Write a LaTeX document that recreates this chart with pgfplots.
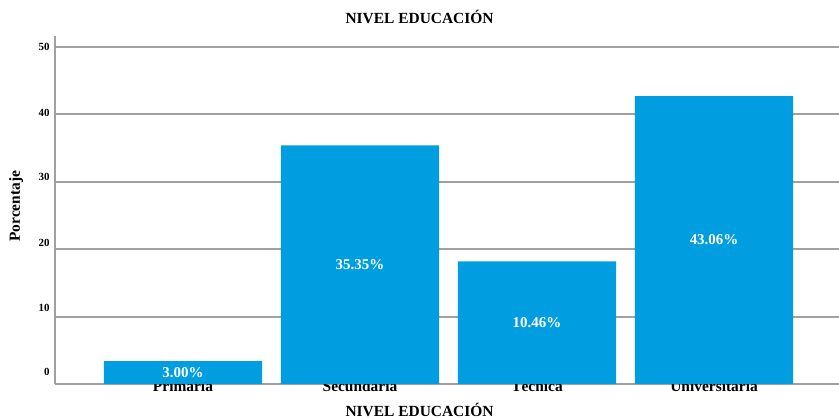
\documentclass[border=0pt]{standalone}
\usepackage{pgfplots}
\pgfplotsset{compat=1.18}
\usepackage{fontspec}
\setmainfont{Liberation Serif}
\definecolor{barblue}{RGB}{0,158,224}
\definecolor{gridgray}{RGB}{160,160,160}
\begin{document}
\begin{tikzpicture}
\begin{axis}[
  set layers,
  scale only axis,
  width=784bp, height=348bp,
  at={(55bp,35bp)}, anchor=south west,
  xmin=-0.723, xmax=3.706, ymin=0, ymax=51.6,
  axis x line*=bottom, axis y line*=left,
  axis line style={gridgray, line width=2bp},
  ytick={10,20,30,40,50},
  yticklabels={},
  ymajorgrids,
  major grid style={gridgray, line width=2bp},
  major tick length=0pt,
  extra y ticks={1.78,11.28,20.9,30.7,40.25,50.04},
  extra y tick labels={0,10,20,30,40,50},
  extra y tick style={grid=none, major tick length=0pt},
  yticklabel style={font=\fontsize{11}{12}\selectfont\bfseries, xshift=-2bp},
  xtick={0,1,2,3},
  xticklabels={Primaria,Secundaria,Técnica,Universitaria},
  xticklabel style={font=\fontsize{15.5}{18}\selectfont\bfseries, anchor=base, yshift=-7.5bp},
  title={NIVEL EDUCACIÓN},
  title style={font=\fontsize{15.5}{18}\selectfont\bfseries, at={(0.465,1.0373)}, anchor=center},
  xlabel={NIVEL EDUCACIÓN},
  xlabel style={font=\fontsize{15.5}{18}\selectfont\bfseries, at={(0.465,-0.0735)}, anchor=center, inner sep=1bp},
  ylabel={Porcentaje},
  ylabel style={font=\fontsize{15.5}{18}\selectfont\bfseries, at={(-0.0497,0.511)}, anchor=center},
  ybar, bar width=0.893,
]
\addplot[fill=barblue, draw=none,
  point meta=explicit symbolic,
  visualization depends on={y \as \rawy},
  nodes near coords,
  every node near coord/.append style={anchor=center, text=white,
    font=\fontsize{15}{18}\selectfont\bfseries,
    shift={(axis direction cs:0,-\rawy/2)}},
] coordinates {
  (0,3.4) [3.00\%]
  (1,35.4) [35.35\%]
  (2,18.2) [10.46\%]
  (3,42.7) [43.06\%]
};
\end{axis}
\pgfresetboundingbox
\path (0,0) rectangle (839bp,419bp);
\end{tikzpicture}
\end{document}
